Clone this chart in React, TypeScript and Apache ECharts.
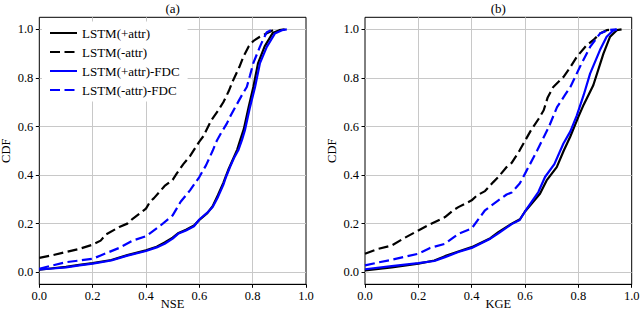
import React, { useEffect, useRef } from "react";
import * as echarts from "echarts";

const SERIES_NAMES = ["LSTM(+attr)", "LSTM(-attr)", "LSTM(+attr)-FDC", "LSTM(-attr)-FDC"];
const PANEL_TITLES = ["(a)", "(b)"];
const X_NAMES = ["NSE", "KGE"];
const Y_NAME = "CDF";

// Panel (a): NSE empirical CDFs, [score, cdf]
const nseAttr = [
  [0, 0.01], [0.05, 0.016], [0.1, 0.022], [0.15, 0.03], [0.2, 0.037], [0.27, 0.05], [0.33, 0.07],
  [0.4, 0.09], [0.44, 0.105], [0.47, 0.122], [0.5, 0.142], [0.52, 0.16], [0.55, 0.175], [0.58, 0.192],
  [0.6, 0.215], [0.63, 0.243], [0.65, 0.272], [0.67, 0.318], [0.69, 0.368], [0.71, 0.425], [0.73, 0.475],
  [0.742, 0.505], [0.755, 0.55], [0.767, 0.59], [0.785, 0.68], [0.803, 0.765], [0.82, 0.86], [0.845, 0.93],
  [0.875, 0.985], [0.9, 0.997], [0.92, 1.0],
];
const nseNoAttr = [
  [0, 0.059], [0.05, 0.07], [0.1, 0.083], [0.15, 0.096], [0.2, 0.113], [0.23, 0.13], [0.25, 0.155],
  [0.3, 0.186], [0.33, 0.2], [0.35, 0.22], [0.4, 0.262], [0.415, 0.29], [0.43, 0.305], [0.47, 0.355],
  [0.5, 0.38], [0.515, 0.406], [0.54, 0.445], [0.565, 0.478], [0.6, 0.538], [0.615, 0.56], [0.645, 0.626],
  [0.67, 0.665], [0.69, 0.7], [0.71, 0.745], [0.727, 0.791], [0.75, 0.845], [0.765, 0.887], [0.785, 0.93],
  [0.802, 0.952], [0.827, 0.97], [0.855, 0.985], [0.877, 0.997], [0.88, 1.0],
];
const nseAttrFdc = [
  [0, 0.011], [0.05, 0.015], [0.1, 0.02], [0.15, 0.028], [0.2, 0.035], [0.27, 0.048], [0.33, 0.068],
  [0.4, 0.087], [0.44, 0.102], [0.47, 0.117], [0.5, 0.138], [0.52, 0.158], [0.55, 0.172], [0.58, 0.189],
  [0.6, 0.217], [0.63, 0.245], [0.65, 0.268], [0.67, 0.31], [0.69, 0.36], [0.7, 0.392], [0.715, 0.433],
  [0.73, 0.47], [0.746, 0.502], [0.76, 0.545], [0.771, 0.585], [0.79, 0.68], [0.809, 0.763], [0.827, 0.86],
  [0.853, 0.928], [0.883, 0.983], [0.91, 0.997], [0.928, 1.0],
];
const nseNoAttrFdc = [
  [0, 0.014], [0.05, 0.028], [0.1, 0.041], [0.2, 0.055], [0.23, 0.069], [0.3, 0.1], [0.35, 0.13],
  [0.4, 0.148], [0.45, 0.188], [0.5, 0.234], [0.53, 0.29], [0.565, 0.337], [0.6, 0.392], [0.625, 0.44],
  [0.65, 0.5], [0.665, 0.54], [0.68, 0.57], [0.703, 0.612], [0.715, 0.64], [0.74, 0.69], [0.76, 0.73],
  [0.778, 0.763], [0.79, 0.81], [0.802, 0.86], [0.827, 0.928], [0.84, 0.96], [0.853, 0.988], [0.87, 0.997],
  [0.885, 1.0],
];

// Panel (b): KGE empirical CDFs, [score, cdf]
const kgeAttr = [
  [0, 0.007], [0.1, 0.02], [0.2, 0.035], [0.26, 0.048], [0.3, 0.066], [0.35, 0.085], [0.4, 0.103],
  [0.47, 0.14], [0.5, 0.165], [0.55, 0.2], [0.581, 0.218], [0.6, 0.25], [0.656, 0.323], [0.681, 0.378],
  [0.719, 0.433], [0.745, 0.5], [0.769, 0.557], [0.8, 0.64], [0.82, 0.69], [0.856, 0.77], [0.894, 0.9],
  [0.919, 0.97], [0.944, 0.997], [0.962, 1.0],
];
const kgeNoAttr = [
  [0, 0.076], [0.05, 0.096], [0.1, 0.11], [0.15, 0.142], [0.2, 0.172], [0.244, 0.197], [0.3, 0.227],
  [0.331, 0.255], [0.35, 0.268], [0.4, 0.296], [0.42, 0.316], [0.45, 0.334], [0.48, 0.37], [0.5, 0.392],
  [0.531, 0.433], [0.55, 0.45], [0.58, 0.502], [0.62, 0.58], [0.65, 0.63], [0.67, 0.667], [0.685, 0.72],
  [0.706, 0.763], [0.744, 0.804], [0.77, 0.845], [0.794, 0.887], [0.831, 0.935], [0.86, 0.96],
  [0.881, 0.983], [0.906, 0.997], [0.93, 1.0],
];
const kgeAttrFdc = [
  [0, 0.012], [0.1, 0.025], [0.2, 0.037], [0.26, 0.046], [0.3, 0.062], [0.35, 0.083], [0.4, 0.1],
  [0.47, 0.138], [0.5, 0.16], [0.55, 0.198], [0.58, 0.215], [0.6, 0.25], [0.65, 0.33], [0.675, 0.392],
  [0.71, 0.445], [0.744, 0.53], [0.77, 0.58], [0.794, 0.645], [0.82, 0.73], [0.844, 0.818], [0.881, 0.915],
  [0.906, 0.97], [0.93, 0.995], [0.944, 1.0],
];
const kgeNoAttrFdc = [
  [0, 0.028], [0.05, 0.04], [0.1, 0.051], [0.2, 0.076], [0.244, 0.1], [0.3, 0.117], [0.35, 0.158],
  [0.4, 0.18], [0.45, 0.255], [0.5, 0.296], [0.531, 0.32], [0.55, 0.328], [0.58, 0.365], [0.6, 0.406],
  [0.645, 0.5], [0.69, 0.6], [0.72, 0.68], [0.75, 0.73], [0.77, 0.763], [0.806, 0.846], [0.844, 0.928],
  [0.881, 0.983], [0.91, 0.997], [0.944, 1.0],
];

const PANEL_DATA = [
  [nseAttr, nseNoAttr, nseAttrFdc, nseNoAttrFdc],
  [kgeAttr, kgeNoAttr, kgeAttrFdc, kgeNoAttrFdc],
];

const FONT = "Liberation Serif";
const COLORS = ["#000000", "#000000", "#0000ff", "#0000ff"];
const DASHED = [false, true, false, true];
const GRID_COLOR = "#c8c8c8";

const PANEL_LEFT = [39.3, 365];
const PANEL_W = 266.7;
const PLOT_TOP = 17.3;
const PLOT_H = 267;
const Y_MIN = -0.05;
const Y_MAX = 1.05;

export default function App() {
  const ref = useRef<HTMLDivElement>(null);

  useEffect(() => {
    if (!ref.current) return;
    const chart = echarts.init(ref.current, undefined, { renderer: "svg" });

    const unit = PLOT_H / (Y_MAX - Y_MIN);
    const innerTop = PLOT_TOP + (Y_MAX - 1) * unit;
    const innerH = unit;

    const grids: any[] = [];
    const xAxes: any[] = [];
    const yAxes: any[] = [];
    const series: any[] = [];
    const graphics: any[] = [];

    PANEL_LEFT.forEach((left, p) => {
      grids.push({
        left,
        top: PLOT_TOP,
        width: PANEL_W,
        height: PLOT_H,
        show: true,
        borderColor: "#000",
        borderWidth: 1,
        backgroundColor: "transparent",
        containLabel: false,
        outerBoundsMode: "none",
      });
      xAxes.push({
        type: "value",
        gridIndex: p,
        min: 0,
        max: 1,
        interval: 0.2,
        name: X_NAMES[p],
        nameLocation: "middle",
        nameGap: 13,
        nameMoveOverlap: false,
        nameTextStyle: { fontFamily: FONT, fontSize: 12.5, color: "#000" },
        axisLine: { show: true, onZero: false, lineStyle: { color: "#000", width: 1 } },
        axisTick: { show: true, inside: false, length: 3.5, lineStyle: { color: "#000", width: 1 } },
        axisLabel: {
          fontFamily: FONT,
          fontSize: 12.5,
          color: "#000",
          margin: 5,
          formatter: (v: number) => v.toFixed(1),
        },
        splitLine: {
          show: true,
          showMinLine: false,
          showMaxLine: false,
          lineStyle: { color: GRID_COLOR, width: 1 },
        },
      });
      yAxes.push({
        type: "value",
        gridIndex: p,
        min: Y_MIN,
        max: Y_MAX,
        show: false,
      });
    });

    PANEL_LEFT.forEach((left, p) => {
      grids.push({
        left,
        top: innerTop,
        width: PANEL_W,
        height: innerH,
        containLabel: false,
        outerBoundsMode: "none",
      });
      xAxes.push({ type: "value", gridIndex: 2 + p, min: 0, max: 1, show: false });
      yAxes.push({
        type: "value",
        gridIndex: 2 + p,
        min: 0,
        max: 1,
        interval: 0.2,
        axisLine: { show: false, onZero: false },
        axisTick: { show: true, inside: false, length: 3.5, lineStyle: { color: "#000", width: 1 } },
        axisLabel: {
          fontFamily: FONT,
          fontSize: 12.5,
          color: "#000",
          margin: 6,
          formatter: (v: number) => v.toFixed(1),
        },
        splitLine: { show: true, lineStyle: { color: GRID_COLOR, width: 1 } },
      });

      PANEL_DATA[p].forEach((data, i) => {
        series.push({
          type: "line",
          name: SERIES_NAMES[i],
          xAxisIndex: p,
          yAxisIndex: p,
          data,
          symbol: "none",
          showSymbol: false,
          smooth: false,
          silent: true,
          lineStyle: {
            color: COLORS[i],
            width: 2.2,
            type: DASHED[i] ? [10, 4.5] : "solid",
          },
          itemStyle: { color: COLORS[i] },
          z: 2 + i,
        });
      });

      graphics.push({
        type: "text",
        x: left + PANEL_W / 2,
        y: 8.5,
        style: {
          text: PANEL_TITLES[p],
          fontFamily: FONT,
          fontSize: 13,
          fill: "#000",
          textAlign: "center",
          textVerticalAlign: "middle",
          verticalAlign: "middle",
        },
      });
      graphics.push({
        type: "text",
        x: left - 33.5,
        y: PLOT_TOP + PLOT_H / 2,
        rotation: Math.PI / 2,
        style: {
          text: Y_NAME,
          fontFamily: FONT,
          fontSize: 12.5,
          fill: "#000",
          textAlign: "center",
          textVerticalAlign: "middle",
          verticalAlign: "middle",
        },
      });
    });

    chart.setOption({
      animation: false,
      backgroundColor: "#ffffff",
      textStyle: { fontFamily: FONT },
      grid: grids,
      xAxis: xAxes,
      yAxis: yAxes,
      series,
      graphic: graphics,
      legend: {
        data: SERIES_NAMES,
        orient: "vertical",
        left: 42,
        top: 21.5,
        padding: [5, 8, 5, 7],
        itemWidth: 27,
        itemHeight: 12,
        itemGap: 6.0,
        selectedMode: false,
        backgroundColor: "#ffffff",
        borderWidth: 0,
        itemStyle: { opacity: 0 },
        textStyle: { fontFamily: FONT, fontSize: 13, color: "#000", lineHeight: 12 },
      },
    });

    return () => chart.dispose();
  }, []);

  return (
    <div
      ref={ref}
      style={{ position: "absolute", left: 0, top: 0, width: 640, height: 316 }}
    />
  );
}
